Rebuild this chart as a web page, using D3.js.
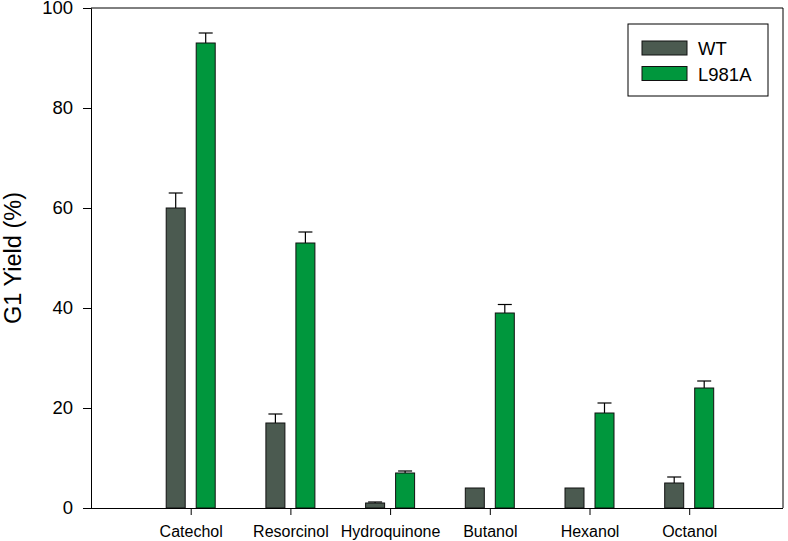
<!DOCTYPE html>
<html>
<head>
<meta charset="utf-8">
<script src="https://cdn.jsdelivr.net/npm/d3@7"></script>
<style>
  html, body { margin: 0; padding: 0; background: #fff; }
  svg { display: block; font-family: Arial, "Liberation Sans", sans-serif; }
</style>
</head>
<body>
<svg id="chart" width="788" height="541"></svg>
<script>
const categories = ["Catechol", "Resorcinol", "Hydroquinone", "Butanol", "Hexanol", "Octanol"];
const seriesNames = ["WT", "L981A"];
const wtValues = [60, 17, 1, 4, 4, 5];
const wtErrors = [3, 1.8, 0.2, 0, 0, 1.2];
const mutValues = [93, 53, 7, 39, 19, 24];
const mutErrors = [2, 2.2, 0.4, 1.7, 2, 1.4];
const yTicks = [0, 20, 40, 60, 80, 100];
const colors = ["#4b5a50", "#00973d"];

const svg = d3.select("#chart");
const mLeft = 91, mRight = 783, mTop = 8, mBottom = 508;
const fontFam = "Arial, 'Liberation Sans', sans-serif";

const x = d3.scaleLinear().domain([0, 7]).range([mLeft, mLeft + 99.7 * 7]);
const y = d3.scaleLinear().domain([0, 100]).range([mBottom, mTop]);

const barW = 19, offset = 15;
const series = [
  { name: seriesNames[0], values: wtValues, errors: wtErrors, color: colors[0], dx: -offset },
  { name: seriesNames[1], values: mutValues, errors: mutErrors, color: colors[1], dx: offset }
];

// frame
svg.append("line").attr("x1", mLeft).attr("x2", mRight).attr("y1", mTop).attr("y2", mTop).attr("stroke", "#000");
svg.append("line").attr("x1", mRight).attr("x2", mRight).attr("y1", mTop).attr("y2", mBottom).attr("stroke", "#000");

// error bars
series.forEach(s => {
  const g = svg.append("g");
  categories.forEach((c, i) => {
    const cx = x(i + 1) + s.dx;
    const v = s.values[i], e = s.errors[i];
    if (e > 0) {
      g.append("line").attr("x1", cx).attr("x2", cx).attr("y1", y(v)).attr("y2", y(v + e))
        .attr("stroke", "#000").attr("stroke-width", 1.2);
      g.append("line").attr("x1", cx - 7).attr("x2", cx + 7).attr("y1", y(v + e)).attr("y2", y(v + e))
        .attr("stroke", "#000").attr("stroke-width", 1.2);
    }
  });
});

// bars
series.forEach(s => {
  svg.append("g").selectAll("rect").data(categories).join("rect")
    .attr("x", (d, i) => x(i + 1) + s.dx - barW / 2)
    .attr("width", barW)
    .attr("y", (d, i) => y(s.values[i]))
    .attr("height", (d, i) => y(0) - y(s.values[i]))
    .attr("fill", s.color)
    .attr("stroke", "#111")
    .attr("stroke-width", 1);
});

// y axis
const yAxis = svg.append("g").attr("transform", `translate(${mLeft},0)`)
  .call(d3.axisLeft(y).tickValues(yTicks).tickSize(8).tickPadding(10).tickFormat(d3.format("d")));
yAxis.select(".domain").attr("stroke", "#000");
yAxis.selectAll("text").attr("font-size", 18.5).attr("fill", "#000").attr("font-family", fontFam);

// x axis
const xAxis = svg.append("g").attr("transform", `translate(0,${mBottom})`)
  .call(d3.axisBottom(x).tickValues(d3.range(1, categories.length + 1)).tickSize(7).tickPadding(11)
    .tickFormat(d => categories[d - 1]));
xAxis.select(".domain").attr("d", `M${mLeft - 8},0.5H${mRight}`).attr("stroke", "#000");
xAxis.selectAll("text").attr("font-size", 16).attr("fill", "#000").attr("font-family", fontFam);

// y label
svg.append("text")
  .attr("transform", `translate(21,${(mTop + mBottom) / 2}) rotate(-90)`)
  .attr("text-anchor", "middle")
  .attr("font-size", 23.5)
  .attr("font-family", fontFam)
  .text("G1 Yield (%)");

// legend
const lg = svg.append("g");
lg.append("rect").attr("x", 628).attr("y", 24).attr("width", 140).attr("height", 72)
  .attr("fill", "#fff").attr("stroke", "#000");
series.forEach((s, i) => {
  const yy = 41 + i * 25.5;
  lg.append("rect").attr("x", 642).attr("y", yy).attr("width", 45).attr("height", 14)
    .attr("fill", s.color).attr("stroke", "#111");
  lg.append("text").attr("x", 698).attr("y", yy + 14).attr("font-size", 18.5)
    .attr("font-family", fontFam).text(s.name);
});
</script>
</body>
</html>
